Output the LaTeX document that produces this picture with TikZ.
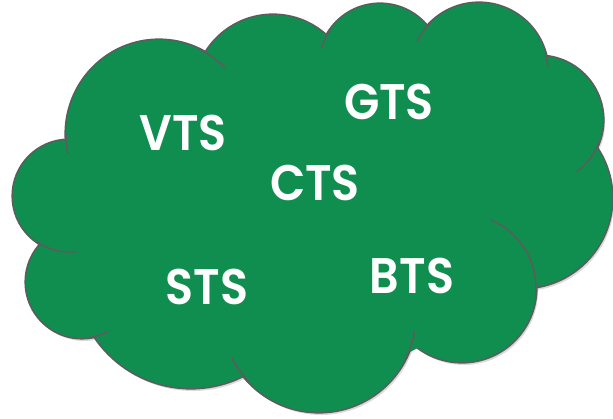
\documentclass[tikz,border=0pt]{standalone}
\usepackage{fontspec}
\setmainfont{Poppins}[BoldFont={Poppins SemiBold}, FakeStretch=0.92]
\definecolor{cloudgreen}{RGB}{16,142,79}
\definecolor{cloudline}{RGB}{92,92,92}
\tikzset{
  puffedge/.style={draw=cloudline, line width=3.2pt},
  puffline/.style={draw=cloudline, line width=1.6pt},
  acronym/.style={text=white, inner sep=0pt, font=\bfseries\fontsize{50}{52}\selectfont}
}
% centre x / centre y / x radius / y radius of each puff
\def\puffs{159/134/93/94, 273/94/79/79, 380/65/61/61, 479/72/69/69,
  539/120/64/64, 522/198/90/90, 462/288/74/74, 319/315/97/97,
  191/272/116/116, 82/282/56/56, 69/196/56/56}
\begin{document}
\begin{tikzpicture}[x=1pt,y=-1pt]
  \useasboundingbox (0,0) rectangle (613,418);
  \clip (0,0) rectangle (613,418);
  % soft shadow
  \foreach \cx/\cy/\rx/\ry in \puffs
    \fill[black!14] (\cx+2,\cy+3) ellipse [x radius=\rx, y radius=\ry];
  % outline, then the fill covers its inner half
  \foreach \cx/\cy/\rx/\ry in \puffs
    \draw[puffedge] (\cx,\cy) ellipse [x radius=\rx, y radius=\ry];
  \foreach \cx/\cy/\rx/\ry in \puffs
    \fill[cloudgreen] (\cx,\cy) ellipse [x radius=\rx, y radius=\ry];
  \fill[cloudgreen] (68,140) -- (208,50) -- (327,33) -- (428,25) -- (548,57)
    -- (597,150) -- (535,287) -- (410,352) -- (243,375) -- (97,338) -- (42,243) -- cycle;
  % short inner arcs where the puffs meet
  \foreach \cx/\cy/\rx/\ry/\a/\b in {159/134/93/94/180/168, 159/134/93/94/-65/-45,
      380/65/61/61/215/196, 479/72/69/69/226/206, 479/72/69/69/344/356,
      539/120/64/64/20/54, 462/288/74/74/5/-67, 319/315/97/97/28/10,
      319/315/97/97/136/154, 82/282/56/56/80/62, 69/196/56/56/125/82}
    \draw[puffline] ({\cx+\rx*cos(\a)},{\cy+\ry*sin(\a)})
      arc[start angle=\a, end angle=\b, x radius=\rx, y radius=\ry];
  % labels
  \node[acronym] (vts) at (183,133) {VTS};
  \node[acronym] (gts) at (389,102) {GTS};
  \node[acronym] (cts) at (315,183) {CTS};
  \node[acronym] (sts) at (207,287) {STS};
  \node[acronym] (bts) at (412,276) {BTS};
\end{tikzpicture}
\end{document}
